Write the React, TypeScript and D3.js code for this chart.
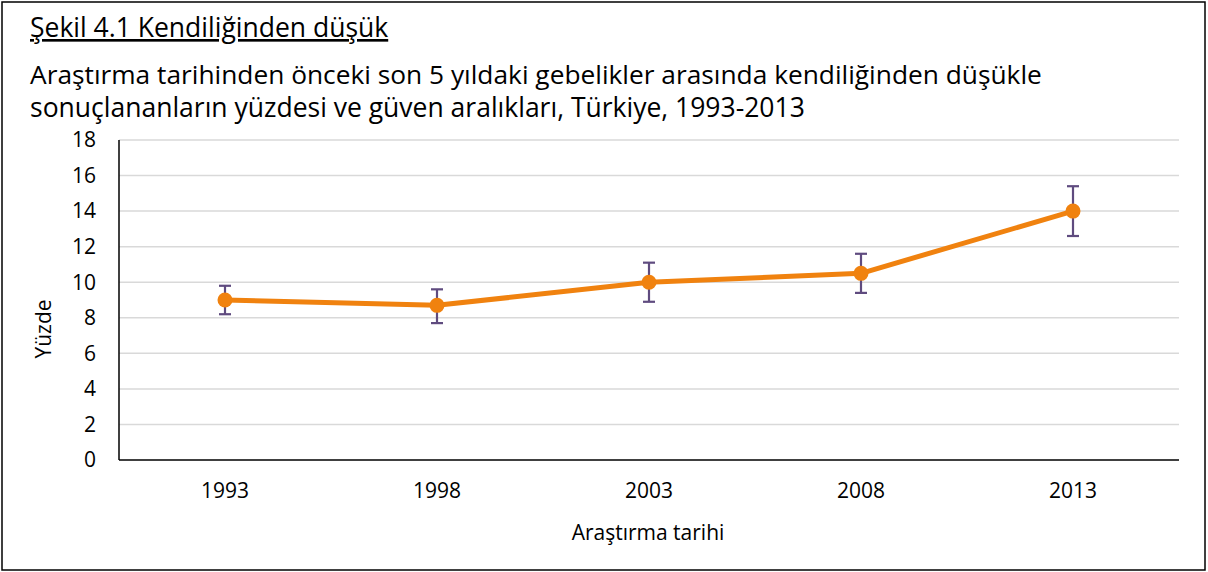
import React, { useEffect, useRef } from "react";
import * as d3 from "d3";

const years = ["1993", "1998", "2003", "2008", "2013"];
const values = [9.0, 8.7, 10.0, 10.5, 14.0];
const lower = [8.2, 7.7, 8.9, 9.4, 12.6];
const upper = [9.8, 9.6, 11.1, 11.6, 15.4];
const yTicks = [0, 2, 4, 6, 8, 10, 12, 14, 16, 18];

const W = 1208, H = 572;
const M = { left: 119, right: 1179, top: 140, bottom: 460 };
const FONT = "'Open Sans', 'DejaVu Sans', sans-serif";

export default function App() {
  const ref = useRef<SVGSVGElement>(null);
  useEffect(() => {
    const svg = d3.select(ref.current);
    svg.selectAll("*").remove();
    const x = d3.scaleBand().domain(years).range([M.left, M.right]);
    const y = d3.scaleLinear().domain([0, 18]).range([M.bottom, M.top]);
    const cx = (d: string) => (x(d) as number) + x.bandwidth() / 2;

    svg.append("rect").attr("x", 2).attr("y", 2).attr("width", 1203).attr("height", 568)
      .attr("fill", "#fff").attr("stroke", "#000").attr("stroke-width", 1.5);

    // title
    svg.append("text").attr("font-family", FONT).attr("font-size", 26.5).attr("x", 30).attr("y", 37)
      .attr("text-decoration", "underline").text("Şekil 4.1 Kendiliğinden düşük");
    svg.append("text").attr("font-family", FONT).attr("font-size", 26.3).attr("x", 30).attr("y", 84)
      .text("Araştırma tarihinden önceki son 5 yıldaki gebelikler arasında kendiliğinden düşükle");
    svg.append("text").attr("font-family", FONT).attr("font-size", 26.5).attr("x", 30).attr("y", 117)
      .text("sonuçlananların yüzdesi ve güven aralıkları, Türkiye, 1993-2013");

    // gridlines
    svg.append("g").selectAll("line").data(yTicks.filter(v => v > 0)).join("line")
      .attr("x1", M.left).attr("x2", M.right).attr("y1", d => y(d)).attr("y2", d => y(d))
      .attr("stroke", "#d9d9d9").attr("stroke-width", 1.5);

    // axes lines
    svg.append("line").attr("x1", M.left).attr("x2", M.left).attr("y1", M.top).attr("y2", M.bottom)
      .attr("stroke", "#000").attr("stroke-width", 1.5);
    svg.append("line").attr("x1", M.left).attr("x2", M.right).attr("y1", M.bottom).attr("y2", M.bottom)
      .attr("stroke", "#000").attr("stroke-width", 1.5);

    // y tick labels
    svg.append("g").selectAll("text").data(yTicks).join("text")
      .attr("x", 96).attr("y", d => y(d)).attr("dy", "0.35em").attr("text-anchor", "end")
      .attr("font-family", FONT).attr("font-size", 21).text(d => String(d));

    // x tick labels
    svg.append("g").selectAll("text").data(years).join("text")
      .attr("x", d => cx(d)).attr("y", 498).attr("text-anchor", "middle")
      .attr("font-family", FONT).attr("font-size", 21).text(d => d);

    svg.append("text").attr("x", 648).attr("y", 540).attr("text-anchor", "middle")
      .attr("font-family", FONT).attr("font-size", 21).text("Araştırma tarihi");
    svg.append("text").attr("transform", `translate(51,${(M.top + M.bottom) / 2 + 29}) rotate(-90)`)
      .attr("text-anchor", "middle").attr("font-family", FONT).attr("font-size", 21).text("Yüzde");

    // line
    const line = d3.line<number>().x((_, i) => cx(years[i])).y(d => y(d));
    svg.append("path").attr("d", line(values)).attr("fill", "none")
      .attr("stroke", "#F0820F").attr("stroke-width", 5).attr("stroke-linejoin", "round");

    // error bars
    const eb = svg.append("g").attr("stroke", "#5F4B7F").attr("stroke-width", 2.2);
    years.forEach((yr, i) => {
      const xx = cx(yr);
      eb.append("line").attr("x1", xx).attr("x2", xx).attr("y1", y(lower[i])).attr("y2", y(upper[i]));
      eb.append("line").attr("x1", xx - 6).attr("x2", xx + 6).attr("y1", y(lower[i])).attr("y2", y(lower[i]));
      eb.append("line").attr("x1", xx - 6).attr("x2", xx + 6).attr("y1", y(upper[i])).attr("y2", y(upper[i]));
    });

    svg.append("g").selectAll("circle").data(values).join("circle")
      .attr("cx", (_, i) => cx(years[i])).attr("cy", d => y(d)).attr("r", 7.5).attr("fill", "#F0820F");
  }, []);
  return (
    <svg ref={ref} width={W} height={H} style={{ position: "absolute", left: 0, top: 0, background: "#fff" }} />
  );
}
